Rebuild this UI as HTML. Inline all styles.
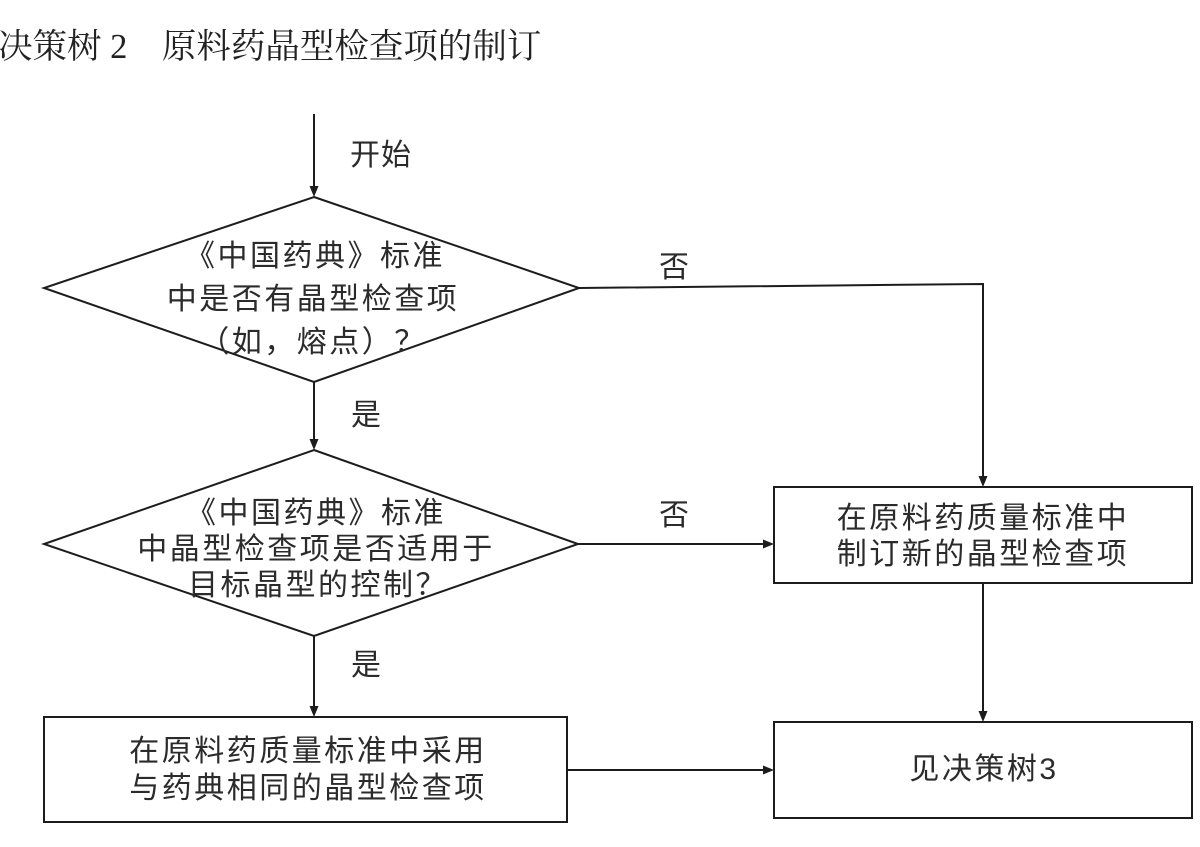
<!DOCTYPE html>
<html>
<head>
<meta charset="utf-8">
<style>
  html, body { margin: 0; padding: 0; background: #ffffff; }
  body { width: 1200px; height: 847px; overflow: hidden; }
  svg { display: block; }
  .t { font-family: "Liberation Sans", "Noto Sans CJK SC", sans-serif; font-size: 30px; fill: #2b2b2b; letter-spacing: 2.5px; }
  .lbl { font-family: "Liberation Sans", "Noto Sans CJK SC", sans-serif; font-size: 30px; fill: #2b2b2b; letter-spacing: 1px; }
  .title { font-family: "Liberation Serif", "Noto Serif CJK SC", serif; font-size: 34.5px; fill: #222; }
  .ln { stroke: #1c1c1c; stroke-width: 2; fill: none; }
  .ah { fill: #1c1c1c; stroke: none; }
</style>
</head>
<body>
<svg width="1200" height="847" viewBox="0 0 1200 847" xmlns="http://www.w3.org/2000/svg">
  <!-- Title -->
  <text class="title" x="-2" y="58">决策树 2　原料药晶型检查项的制订</text>

  <!-- Start arrow -->
  <line class="ln" x1="314" y1="114" x2="314" y2="187"/>
  <polygon class="ah" points="309.5,186 318.5,186 314,197"/>
  <text class="lbl" x="350" y="165">开始</text>

  <!-- Diamond 1 -->
  <polygon class="ln" points="314,197 579,288 314,382 44,288"/>
  <text class="t" text-anchor="middle" x="315" y="266">《中国药典》标准</text>
  <text class="t" text-anchor="middle" x="313" y="309">中是否有晶型检查项</text>
  <text class="t" text-anchor="middle" x="313" y="352">（如，熔点）？</text>

  <!-- No branch 1 -->
  <polyline class="ln" points="579,288 983,284 983,477"/>
  <polygon class="ah" points="978.5,476 987.5,476 983,487"/>
  <text class="lbl" x="659" y="277">否</text>

  <!-- Yes 1 -->
  <line class="ln" x1="314" y1="382" x2="314" y2="440"/>
  <polygon class="ah" points="309.5,439 318.5,439 314,450"/>
  <text class="lbl" x="351" y="425">是</text>

  <!-- Diamond 2 -->
  <polygon class="ln" points="314,450 578,544 314,636 44,544"/>
  <text class="t" text-anchor="middle" x="316" y="523">《中国药典》标准</text>
  <text class="t" text-anchor="middle" x="316" y="559">中晶型检查项是否适用于</text>
  <text class="t" text-anchor="middle" x="318" y="595">目标晶型的控制？</text>

  <!-- No branch 2 -->
  <line class="ln" x1="578" y1="544" x2="764" y2="544"/>
  <polygon class="ah" points="763,539.5 763,548.5 774,544"/>
  <text class="lbl" x="659" y="525">否</text>

  <!-- Box right: new test -->
  <rect class="ln" x="774" y="487" width="418" height="96"/>
  <text class="t" text-anchor="middle" x="983" y="528">在原料药质量标准中</text>
  <text class="t" text-anchor="middle" x="983" y="564">制订新的晶型检查项</text>

  <!-- Arrow to decision tree 3 -->
  <line class="ln" x1="983" y1="583" x2="983" y2="712"/>
  <polygon class="ah" points="978.5,711 987.5,711 983,722"/>

  <!-- Yes 2 -->
  <line class="ln" x1="314" y1="636" x2="314" y2="707"/>
  <polygon class="ah" points="309.5,706 318.5,706 314,717"/>
  <text class="lbl" x="351" y="675">是</text>

  <!-- Box bottom-left -->
  <rect class="ln" x="44" y="717" width="523" height="105"/>
  <text class="t" text-anchor="middle" x="308" y="761">在原料药质量标准中采用</text>
  <text class="t" text-anchor="middle" x="308" y="798">与药典相同的晶型检查项</text>

  <!-- Arrow bottom-left to bottom-right -->
  <line class="ln" x1="567" y1="770" x2="764" y2="770"/>
  <polygon class="ah" points="763,765.5 763,774.5 774,770"/>

  <!-- Box bottom-right -->
  <rect class="ln" x="774" y="722" width="418" height="96"/>
  <text class="t" text-anchor="middle" x="984" y="779">见决策树3</text>
</svg>
</body>
</html>
